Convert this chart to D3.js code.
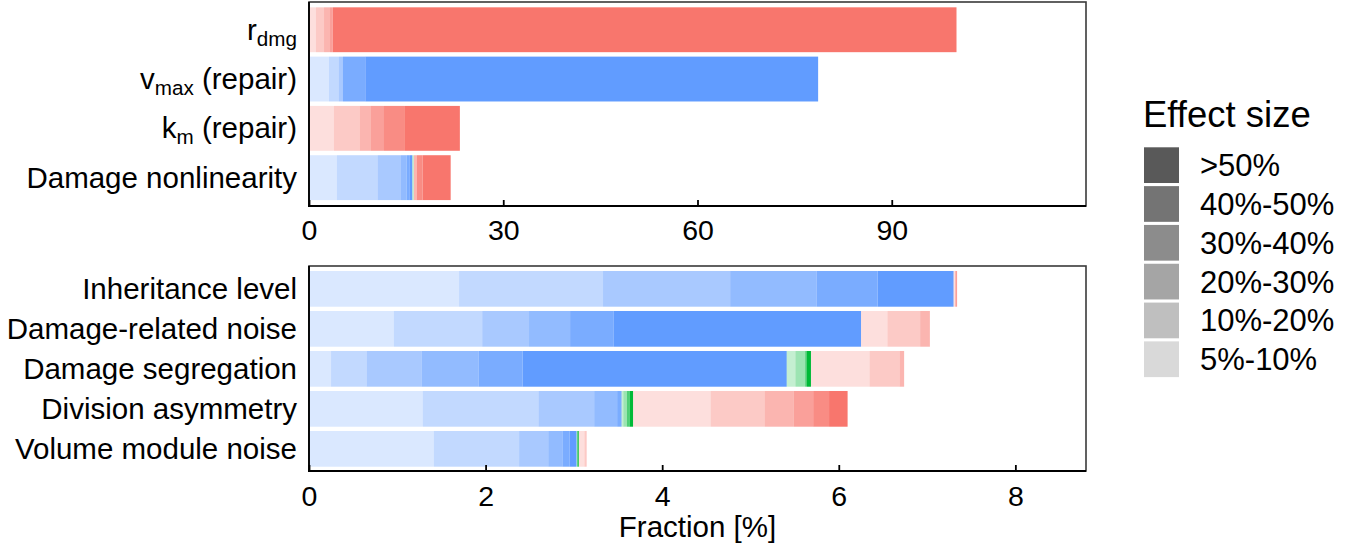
<!DOCTYPE html>
<html>
<head>
<meta charset="utf-8">
<script src="https://cdn.jsdelivr.net/npm/d3@7"></script>
<style>
  html, body { margin: 0; padding: 0; background: #fff; }
  svg { display: block; font-family: "Liberation Sans", Arial, sans-serif; }
</style>
</head>
<body>
<svg id="chart" width="1347" height="546"></svg>
<script>
// Effect-size classes, lightest first (stack order within each direction)
const effectLevels = ["5%-10%", "10%-20%", "20%-30%", "30%-40%", "40%-50%", ">50%"];
const levelAlpha = [0.23, 0.39, 0.54, 0.69, 0.84, 1];

// Direction colours: decrease, neutral/other, increase
const directions = ["blue", "green", "red"];
const directionColor = { blue: "#619CFF", green: "#00BA38", red: "#F8766D" };

// Upper panel: repair / damage parameters
const topCategories = ["r_dmg", "v_max (repair)", "k_m (repair)", "Damage nonlinearity"];
const topBlue = [
  [0, 0, 0, 0, 0, 0],
  [3.09, 1.54, 0.62, 0, 3.44, 69.94],
  [0, 0, 0, 0, 0, 0],
  [4.32, 6.28, 3.60, 0.88, 0.42, 0.45]
];
const topGreen = [
  [0, 0, 0, 0, 0, 0],
  [0, 0, 0, 0, 0, 0],
  [0, 0, 0, 0, 0, 0],
  [0.25, 0, 0, 0, 0, 0]
];
const topRed = [
  [1.08, 1.24, 0.92, 0.42, 0, 96.34],
  [0, 0, 0, 0, 0, 0],
  [3.86, 4.01, 1.70, 2.01, 3.24, 8.48],
  [0, 0, 0.43, 0, 0.92, 4.33]
];
const topTicks = [0, 30, 60, 90];

// Lower panel: division / noise parameters
const bottomCategories = ["Inheritance level", "Damage-related noise", "Damage segregation",
                          "Division asymmetry", "Volume module noise"];
const bottomBlue = [
  [1.70, 1.63, 1.44, 0.98, 0.69, 0.86],
  [0.962, 1.00, 0.53, 0.465, 0.495, 2.80],
  [0.25, 0.403, 0.623, 0.644, 0.50, 2.99],
  [1.29, 1.31, 0.63, 0.26, 0.05, 0],
  [1.415, 0.965, 0.33, 0.16, 0.08, 0.08]
];
const bottomGreen = [
  [0, 0, 0, 0, 0, 0],
  [0, 0, 0, 0, 0, 0],
  [0.10, 0.11, 0, 0.02, 0, 0.045],
  [0.02, 0.04, 0, 0.03, 0, 0.04],
  [0.01, 0, 0, 0, 0, 0.015]
];
const bottomRed = [
  [0.02, 0, 0, 0.02, 0, 0],
  [0.30, 0.37, 0.11, 0, 0, 0],
  [0.665, 0.34, 0.05, 0, 0, 0],
  [0.88, 0.61, 0.33, 0.22, 0.18, 0.21],
  [0.065, 0.025, 0, 0, 0, 0]
];
const bottomTicks = [0, 2, 4, 6, 8];

const svg = d3.select("#chart");
const FONT = 29.5;

// Flatten one row into stacked segments: blue, then green, then red; lightest first
function segmentsFor(i, blue, green, red) {
  const out = [];
  let x0 = 0;
  const sets = { blue: blue[i], green: green[i], red: red[i] };
  directions.forEach(dir => {
    sets[dir].forEach((w, lvl) => {
      if (w > 0) {
        out.push({ dir, lvl, x0, x1: x0 + w });
        x0 += w;
      }
    });
  });
  return out;
}

// Category label, with plotmath-style subscripts where needed
function drawLabel(g, name, x, y) {
  const t = g.append("text").attr("x", x).attr("y", y)
    .attr("text-anchor", "end").attr("font-size", FONT).attr("fill", "#000");
  const m = name.match(/^([a-z])_([a-z]+)(.*)$/);
  if (m) {
    t.append("tspan").text(m[1]);
    t.append("tspan").attr("font-size", FONT * 0.7).attr("dy", 6).text(m[2]);
    if (m[3]) t.append("tspan").attr("dy", -6).text(m[3]);
  } else {
    t.text(name);
  }
}

function drawPanel(opts) {
  const { categories, blue, green, red, domain, ticks, top, bottom, barTop, barBottom, pad, tickPad } = opts;
  const left = 309, right = 1086;
  const x = d3.scaleLinear().domain(domain).range([left, right]);
  const y = d3.scaleBand().domain(categories).range([barTop, barBottom])
    .paddingInner(pad).paddingOuter(pad / 2);

  const g = svg.append("g");

  // panel frame
  g.append("rect").attr("x", left).attr("y", top)
    .attr("width", right - left).attr("height", bottom - top)
    .attr("fill", "none").attr("stroke", "#3a3a3a").attr("stroke-width", 1.6);

  // stacked bars
  categories.forEach((c, i) => {
    const segs = segmentsFor(i, blue, green, red);
    g.selectAll(null).data(segs).join("rect")
      .attr("x", d => x(d.x0))
      .attr("width", d => x(d.x1) - x(d.x0))
      .attr("y", y(c))
      .attr("height", y.bandwidth())
      .attr("fill", d => directionColor[d.dir])
      .attr("fill-opacity", d => levelAlpha[d.lvl]);
    drawLabel(g, c, left - 12, y(c) + y.bandwidth() / 2 + 10);
  });

  // x axis with inward ticks
  const axis = d3.axisBottom(x).tickValues(ticks).tickSizeInner(-6).tickSizeOuter(0)
    .tickPadding(tickPad).tickFormat(d3.format("d"));
  const ag = g.append("g").attr("transform", `translate(0,${bottom})`).call(axis);
  ag.select(".domain").remove();
  ag.selectAll(".tick line").attr("stroke", "#000").attr("stroke-width", 1.8);
  ag.selectAll(".tick text").attr("font-size", 28.5).attr("fill", "#000")
    .attr("font-family", "Liberation Sans, Arial, sans-serif");

  // axis lines (left and bottom)
  g.append("line").attr("x1", left).attr("x2", left).attr("y1", top).attr("y2", bottom + 1)
    .attr("stroke", "#000").attr("stroke-width", 1.8);
  g.append("line").attr("x1", left - 1).attr("x2", right).attr("y1", bottom).attr("y2", bottom)
    .attr("stroke", "#000").attr("stroke-width", 1.8);
  return x;
}

drawPanel({
  categories: topCategories, blue: topBlue, green: topGreen, red: topRed,
  domain: [0, 120], ticks: topTicks,
  top: 2, bottom: 206, barTop: 5.1, barBottom: 202.3, pad: 0.09, tickPad: 14
});

drawPanel({
  categories: bottomCategories, blue: bottomBlue, green: bottomGreen, red: bottomRed,
  domain: [0, 8.8], ticks: bottomTicks,
  top: 266, bottom: 471, barTop: 268.85, barBottom: 468.85, pad: 0.107, tickPad: 14.3
});

// x axis title
svg.append("text").attr("x", 697.5).attr("y", 536.5).attr("text-anchor", "middle")
  .attr("font-size", FONT).attr("fill", "#000").text("Fraction [%]");

// Legend: effect size as alpha of a grey swatch, strongest first
const legend = svg.append("g");
legend.append("text").attr("x", 1143).attr("y", 127).attr("font-size", 36.5)
  .attr("fill", "#000").text("Effect size");
const legendItems = effectLevels.map((lab, i) => ({ lab, a: levelAlpha[i] })).reverse();
const ly = d3.scaleBand().domain(legendItems.map(d => d.lab)).range([147.3, 377.1]).paddingInner(0.08);
legendItems.forEach(d => {
  legend.append("rect").attr("x", 1144).attr("y", ly(d.lab))
    .attr("width", 35).attr("height", ly.bandwidth())
    .attr("fill", "#595959").attr("fill-opacity", d.a);
  legend.append("text").attr("x", 1200).attr("y", ly(d.lab) + ly.bandwidth() / 2 + 11)
    .attr("font-size", 31).attr("fill", "#000").text(d.lab);
});
</script>
</body>
</html>
